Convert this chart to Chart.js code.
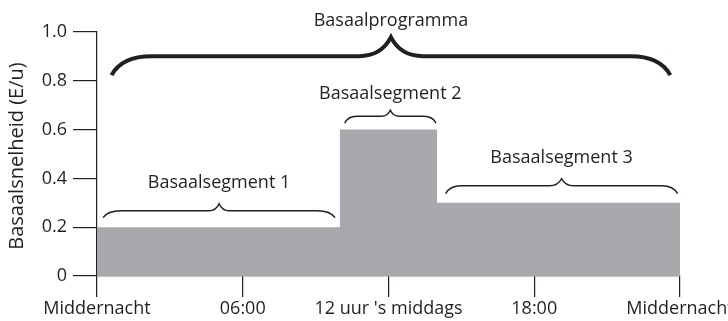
<!DOCTYPE html>
<html>
<head>
<meta charset="utf-8">
<script src="https://cdn.jsdelivr.net/npm/chart.js@4"></script>
<style>
  html, body { margin: 0; padding: 0; background: #fff; }
  #wrap { width: 728px; height: 321px; }
</style>
</head>
<body>
<div id="wrap"><canvas id="basaalChart"></canvas></div>
<script>
// basaalsegmenten: begin- en eindtijd (uur) en snelheid (E/u)
const segStart = [0, 10, 14];
const segEnd = [10, 14, 24];
const segRate = [0.2, 0.6, 0.3];

const hourTicks = [0, 6, 12, 18, 24];
const hourLabels = ['Middernacht', '06:00', "12 uur 's middags", '18:00', 'Middernacht'];
const yTitle = 'Basaalsnelheid (E/u)';

// accolades boven de grafiek (tijden in uren, hoogte van de uiteinden in E/u)
const braceLabels = ['Basaalprogramma', 'Basaalsegment 1', 'Basaalsegment 2', 'Basaalsegment 3'];
const braceFrom = [0.6, 0.25, 10.2, 14.35];
const braceTo = [23.6, 9.8, 13.95, 23.9];
const braceBase = [0.823, 0.239, 0.626, 0.337];

const braceStyle = [
  { rise: 19, tip: 19, endW: 40, midW: 32, lw: 4, gap: 11 },
  { rise: 7, tip: 7, endW: 18, midW: 10, lw: 1.5, gap: 16 },
  { rise: 7, tip: 6, endW: 12, midW: 9, lw: 1.5, gap: 11 },
  { rise: 8, tip: 7, endW: 16, midW: 12, lw: 1.5, gap: 16 }
];

const ink = '#231f20';
const fontFam = '"Open Sans", sans-serif';

// trapfunctie: elk segment begint op zijn starttijd, laatste punt sluit de dag af
const points = segStart.map((s, i) => ({ x: s, y: segRate[i] }));
points.push({ x: segEnd[segEnd.length - 1], y: segRate[segRate.length - 1] });

const bracePlugin = {
  id: 'braces',
  afterDatasetsDraw(chart) {
    const ctx = chart.ctx;
    const xs = chart.scales.x, ys = chart.scales.y;
    ctx.save();
    ctx.strokeStyle = ink;
    ctx.fillStyle = ink;
    braceLabels.forEach((label, i) => {
      const st = braceStyle[i];
      const x0 = xs.getPixelForValue(braceFrom[i]);
      const x1 = xs.getPixelForValue(braceTo[i]);
      const xm = (x0 + x1) / 2;
      const base = ys.getPixelForValue(braceBase[i]);
      const flat = base - st.rise;
      const tip = flat - st.tip;
      ctx.lineWidth = st.lw;
      ctx.beginPath();
      ctx.moveTo(x0, base);
      ctx.quadraticCurveTo(x0 + st.endW * 0.25, flat, x0 + st.endW, flat);
      ctx.lineTo(xm - st.midW, flat);
      ctx.quadraticCurveTo(xm - st.midW * 0.3, flat, xm, tip);
      ctx.quadraticCurveTo(xm + st.midW * 0.3, flat, xm + st.midW, flat);
      ctx.lineTo(x1 - st.endW, flat);
      ctx.quadraticCurveTo(x1 - st.endW * 0.25, flat, x1, base);
      ctx.stroke();

      ctx.font = '18px ' + fontFam;
      ctx.textAlign = 'center';
      ctx.textBaseline = 'alphabetic';
      ctx.fillText(label, xm, tip - st.gap);
    });

    // as-titel links, verticaal
    const area = chart.chartArea;
    ctx.translate(17, (area.top + area.bottom) / 2 + 2);
    ctx.rotate(-Math.PI / 2);
    ctx.font = '20px ' + fontFam;
    ctx.textAlign = 'center';
    ctx.textBaseline = 'middle';
    ctx.fillText(yTitle, 0, 0);
    ctx.restore();
  }
};

new Chart(document.getElementById('basaalChart'), {
  type: 'line',
  data: {
    datasets: [{
      data: points,
      stepped: true,
      fill: 'origin',
      backgroundColor: '#a7a9ac',
      borderWidth: 0,
      pointRadius: 0
    }]
  },
  options: {
    responsive: true,
    maintainAspectRatio: false,
    animation: false,
    layout: { autoPadding: false, padding: { left: 0, top: 32, right: 48, bottom: 0 } },
    plugins: { legend: { display: false }, tooltip: { enabled: false } },
    scales: {
      x: {
        type: 'linear',
        min: 0,
        max: 24,
        afterFit: s => { s.height = 45; s.paddingLeft = 0; s.paddingRight = 0; },
        afterBuildTicks: s => { s.ticks = hourTicks.map(v => ({ value: v })); },
        border: { color: ink, width: 1.2 },
        grid: { drawOnChartArea: false, tickLength: 21, color: ink, lineWidth: 1.2 },
        ticks: {
          autoSkip: false,
          maxRotation: 0,
          padding: 1,
          color: ink,
          font: { family: fontFam, size: 18 },
          callback: v => hourLabels[hourTicks.indexOf(v)]
        }
      },
      y: {
        min: 0,
        max: 1,
        afterFit: s => { s.width = 97; s.paddingTop = 0; s.paddingBottom = 0; },
        border: { color: ink, width: 1.2 },
        grid: { drawOnChartArea: false, tickLength: 24, color: ink, lineWidth: 1.2 },
        ticks: {
          stepSize: 0.2,
          padding: 6,
          color: ink,
          font: { family: fontFam, size: 18 },
          callback: v => v === 0 ? '0' : v.toFixed(1)
        }
      }
    }
  },
  plugins: [bracePlugin]
});
</script>
</body>
</html>
